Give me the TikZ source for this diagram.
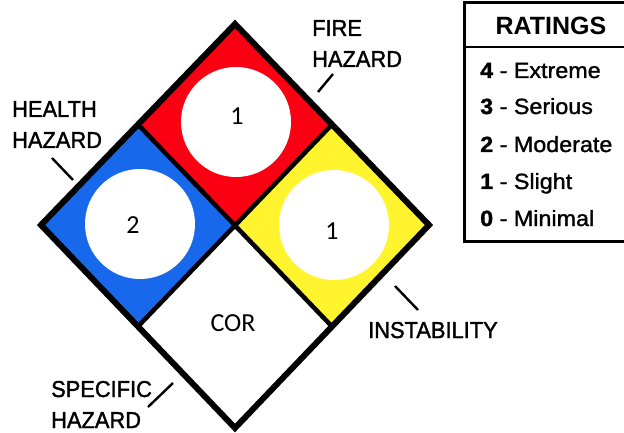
\documentclass[tikz,border=0pt]{standalone}
\usepackage{fontspec}
\setmainfont{Liberation Sans}
\newfontfamily\labelfont[FakeStretch=0.95,FakeBold=1.6]{Liberation Sans}
\newfontfamily\ratefont[FakeStretch=1.06,FakeBold=1.4]{Liberation Sans}
\newfontfamily\numfont{Carlito}

\definecolor{nfpared}{RGB}{250,0,18}
\definecolor{nfpablue}{RGB}{24,104,236}
\definecolor{nfpayellow}{RGB}{255,244,46}

\begin{document}
\begin{tikzpicture}[x=1pt,y=-1pt,
  quad/.style={draw=black,line width=5pt,line join=miter},
  disc/.style={circle,fill=white,draw=none,minimum size=110pt,inner sep=0pt},
  rating/.style={font=\numfont\fontsize{26}{30}\selectfont,inner sep=0pt},
  hazlabel/.style={font=\labelfont\fontsize{23}{31}\selectfont,anchor=base west,inner sep=0pt,align=left},
  leader/.style={line width=2.4pt},
  ratingline/.style={font=\ratefont\fontsize{22}{26}\selectfont,anchor=base west,inner sep=0pt}]
\useasboundingbox (0,0) rectangle (624,433);

% corners of the diamond and the division points
\coordinate (T) at (235,24);
\coordinate (L) at (41,225);
\coordinate (R) at (429,225);
\coordinate (B) at (235,428);
\coordinate (C) at (235,226);
\coordinate (TL) at (138,124.5);
\coordinate (TR) at (332,124.5);
\coordinate (BL) at (138,326.5);
\coordinate (BR) at (332,326.5);

% the four coloured quadrants
\fill[nfpared] (T) -- (TR) -- (C) -- (TL) -- cycle;
\fill[nfpablue] (TL) -- (C) -- (BL) -- (L) -- cycle;
\fill[nfpayellow] (TR) -- (R) -- (BR) -- (C) -- cycle;
\fill[white] (C) -- (BR) -- (B) -- (BL) -- cycle;

% white discs holding the numbers
\node[disc] (fdisc) at (236,122) {};
\node[disc] (hdisc) at (140,224) {};
\node[disc] (idisc) at (334,225) {};

% outlines
\draw[line width=4.5pt] (TL) -- (BR);
\draw[line width=4.5pt] (TR) -- (BL);
\draw[quad,line width=6pt] (T) -- (R) -- (B) -- (L) -- cycle;

% numbers
\node[rating] (fire) at (237,116) {1};
\node[rating] (health) at (133,225) {2};
\node[rating] (inst) at (332,231) {1};
\node[rating] (spec) at (233,323) {COR};

% hazard labels (anchored on the baseline of their last line) with leader ticks
\node[hazlabel] (firelbl) at (312,67) {FIRE\\HAZARD};
\node[hazlabel] (healthlbl) at (12,148) {HEALTH\\HAZARD};
\node[hazlabel] (speclbl) at (51,428) {SPECIFIC\\HAZARD};
\node[hazlabel] (instlbl) at (368,338) {INSTABILITY};

\coordinate (f1) at (318,92);  \coordinate (f2) at (333,74);
\coordinate (h1) at (52,158);  \coordinate (h2) at (73,180);
\coordinate (s1) at (148,407); \coordinate (s2) at (173,383);
\coordinate (i1) at (395,286); \coordinate (i2) at (418,310);
\draw[leader] (f1) -- (f2);
\draw[leader] (h1) -- (h2);
\draw[leader] (s1) -- (s2);
\draw[leader] (i1) -- (i2);

% ratings key, running off the right edge
\begin{scope}
\clip (0,0) rectangle (624,433);
\draw[line width=3pt] (464,3) rectangle (640,241);
\draw[line width=2pt] (464,47) -- (640,47);
\end{scope}
\node[font=\bfseries\fontsize{25}{30}\selectfont,anchor=base,inner sep=0pt] (ratings) at (551,35) {RATINGS};
\node[ratingline] (r4) at (480,78) {\textbf{4} - Extreme};
\node[ratingline] (r3) at (480,114) {\textbf{3} - Serious};
\node[ratingline] (r2) at (480,152) {\textbf{2} - Moderate};
\node[ratingline] (r1) at (480,189) {\textbf{1} - Slight};
\node[ratingline] (r0) at (480,226) {\textbf{0} - Minimal};
\end{tikzpicture}
\end{document}
